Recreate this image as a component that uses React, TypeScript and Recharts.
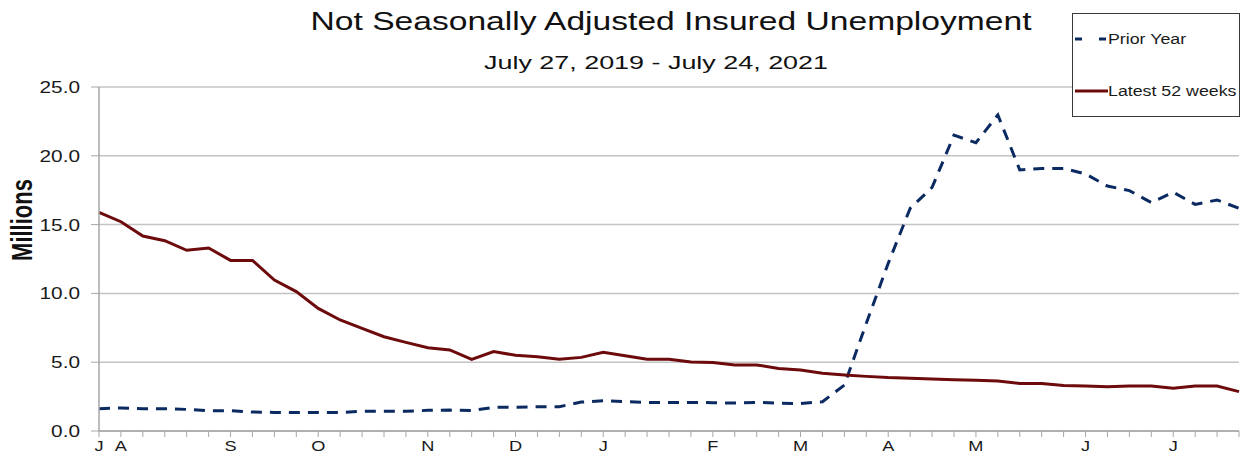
import { LineChart, Line, XAxis, YAxis, CartesianGrid, Legend } from "recharts"

// one label per week, Jul 25 2020 .. Jul 24 2021 (month initial at first week of month)
const weekLabels = [
  "J", "A", "", "", "", "", "S", "", "", "", "O", "", "", "", "", "N", "", "", "",
  "D", "", "", "", "J", "", "", "", "", "F", "", "", "", "M", "", "", "", "A", "",
  "", "", "M", "", "", "", "", "J", "", "", "", "J", "", "", "",
]

const priorYear = [
  1.62, 1.67, 1.62, 1.62, 1.57, 1.48, 1.48, 1.38, 1.35, 1.35, 1.35, 1.35, 1.43,
  1.43, 1.43, 1.5, 1.52, 1.48, 1.72, 1.72, 1.77, 1.77, 2.1, 2.2, 2.13, 2.08, 2.08,
  2.08, 2.06, 2.03, 2.08, 2.03, 1.99, 2.13, 3.34, 7.83, 12.19, 16.18, 17.7, 21.5,
  20.95, 22.97, 18.97, 19.08, 19.08, 18.68, 17.8, 17.47, 16.6, 17.35, 16.47,
  16.79, 16.18,
]

const latest52 = [
  15.89, 15.21, 14.17, 13.83, 13.13, 13.3, 12.4, 12.4, 10.97, 10.13, 8.91, 8.07,
  7.46, 6.85, 6.44, 6.05, 5.89, 5.21, 5.77, 5.5, 5.4, 5.21, 5.35, 5.72, 5.47,
  5.21, 5.21, 5.01, 4.97, 4.8, 4.8, 4.55, 4.43, 4.19, 4.07, 3.97, 3.88, 3.83,
  3.78, 3.73, 3.68, 3.63, 3.46, 3.46, 3.31, 3.27, 3.22, 3.27, 3.27, 3.1, 3.27,
  3.27, 2.86,
]

const yTicks = [0, 5, 10, 15, 20, 25]

const chartData = weekLabels.map((label, i) => ({
  label,
  prior: priorYear[i],
  latest: latest52[i],
}))

const FONT = '"Liberation Sans", Arial, sans-serif'
const BLUE = "#0b2a62"
const MAROON = "#6c0a0c"
const AXIS = "#a6a6a6"
const STRETCH = 1.3

const YTick = ({ x, y, payload }: any) => (
  <text
    transform={`translate(${x},${y}) scale(${STRETCH},1)`}
    textAnchor="end"
    dy={6}
    fontSize={16}
    fontFamily={FONT}
    fill="#1a1a1a"
  >
    {Number(payload.value).toFixed(1)}
  </text>
)

const XTick = ({ x, y, payload }: any) => {
  if (!payload.value) return <g />
  return (
    <text
      transform={`translate(${x},${y}) scale(${STRETCH},1)`}
      textAnchor="middle"
      dy={12}
      fontSize={14}
      fontFamily={FONT}
      fill="#1a1a1a"
    >
      {payload.value}
    </text>
  )
}

const LegendBox = () => (
  <div
    style={{
      width: 168,
      height: 104,
      border: "1px solid #3a3a3a",
      background: "#fff",
      boxSizing: "border-box",
    }}
  >
    <svg width={168} height={104} style={{ display: "block" }}>
      <line x1={2} x2={33} y1={25} y2={25} stroke={BLUE} strokeWidth={3} strokeDasharray="7 17" />
      <text transform="translate(35,30) scale(1.27,1)" fontSize={14} fontFamily={FONT} fill="#1a1a1a">
        Prior Year
      </text>
      <line x1={2} x2={35} y1={77} y2={77} stroke={MAROON} strokeWidth={3} />
      <text transform="translate(35,82) scale(1.27,1)" fontSize={14} fontFamily={FONT} fill="#1a1a1a">
        Latest 52 weeks
      </text>
    </svg>
  </div>
)

export default function App() {
  return (
    <div style={{ position: "absolute", left: 0, top: 0, width: 1240, height: 456, background: "#fff" }}>
      <LineChart
        width={1240}
        height={456}
        data={chartData}
        margin={{ top: 87, right: 1, bottom: 0, left: 0 }}
      >
        <CartesianGrid vertical={false} stroke="#c4c4c4" strokeWidth={1.5} />
        <XAxis
          dataKey="label"
          interval={0}
          height={25}
          tickSize={6}
          tickMargin={2}
          axisLine={{ stroke: AXIS, strokeWidth: 1.5 }}
          tickLine={{ stroke: AXIS }}
          tick={<XTick />}
        />
        <YAxis
          domain={[0, 25]}
          ticks={yTicks}
          width={99}
          tickSize={8}
          tickMargin={11}
          axisLine={{ stroke: AXIS, strokeWidth: 1.5 }}
          tickLine={{ stroke: AXIS }}
          tick={<YTick />}
        />
        <Legend
          layout="vertical"
          align="center"
          verticalAlign="middle"
          content={<LegendBox />}
          wrapperStyle={{ top: 13, left: 1072, width: 168, height: 104 }}
        />
        <Line
          type="linear"
          dataKey="prior"
          name="Prior Year"
          stroke={BLUE}
          strokeWidth={3}
          strokeDasharray="11 8"
          dot={false}
          isAnimationActive={false}
        />
        <Line
          type="linear"
          dataKey="latest"
          name="Latest 52 weeks"
          stroke={MAROON}
          strokeWidth={3}
          dot={false}
          isAnimationActive={false}
        />
      </LineChart>
      <svg
        width={1240}
        height={456}
        style={{ position: "absolute", left: 0, top: 0, pointerEvents: "none" }}
      >
        <text
          x={671}
          y={30}
          textAnchor="middle"
          fontSize={25}
          fontFamily={FONT}
          fill="#111"
          textLength={721}
          lengthAdjust="spacingAndGlyphs"
        >
          Not Seasonally Adjusted Insured Unemployment
        </text>
        <text
          x={656}
          y={69}
          textAnchor="middle"
          fontSize={19}
          fontFamily={FONT}
          fill="#111"
          textLength={344}
          lengthAdjust="spacingAndGlyphs"
        >
          July 27, 2019 - July 24, 2021
        </text>
        <text
          transform={`translate(32,220) scale(${STRETCH},1) rotate(-90)`}
          textAnchor="middle"
          fontSize={22}
          fontWeight="bold"
          fontFamily={FONT}
          fill="#111"
        >
          Millions
        </text>
      </svg>
    </div>
  )
}
